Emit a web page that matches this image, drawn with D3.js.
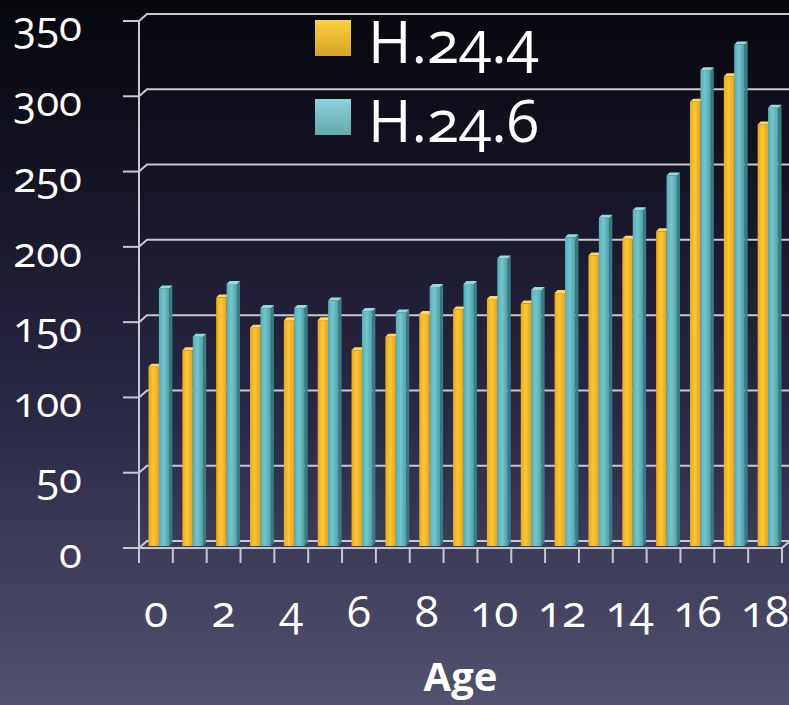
<html>
    <head>
            <script src="https://d3js.org/d3.v7.min.js"></script>
    </head>

    <style>
        body{ margin:0; background:#07070f; }
        text{ font-family:"Open Sans", "DejaVu Sans", sans-serif; fill:#ffffff; font-variant-numeric: oldstyle-nums; }
        .grid{ stroke:#c8c8d0; stroke-width:2px; fill:none; }
    </style>
    <body>

        <script>

            // data
            var ages = ["0","1","2","3","4","5","6","7","8","9","10","11","12","13","14","15","16","17","18"];
            var seriesNames = ["H.24.4", "H.24.6"];
            var h244 = [119, 130, 165, 145, 150, 150, 130, 139, 154, 157, 164, 161, 168, 193, 204, 209, 295, 312, 280];
            var h246 = [171, 139, 174, 158, 158, 163, 156, 155, 172, 174, 191, 170, 205, 218, 223, 246, 316, 333, 291];
            var yTicks = [0, 50, 100, 150, 200, 250, 300, 350];

            var W = 789, H = 705;
            var pLeft = 139, pRight = 782, pTop = 21, pBottom = 548;
            var dx = 8, dy = 7;      // back wall offset
            var dep = 3;             // bar depth

            var svg = d3.select("body").append("svg")
                        .attr("width", W)
                        .attr("height", H);

            var defs = svg.append("defs");

            // background gradient
            var bg = defs.append("linearGradient").attr("id", "bg")
                         .attr("x1", 0).attr("y1", 0).attr("x2", 0).attr("y2", 1);
            bg.append("stop").attr("offset", "0%").attr("stop-color", "#06060d");
            bg.append("stop").attr("offset", "30%").attr("stop-color", "#181729");
            bg.append("stop").attr("offset", "60%").attr("stop-color", "#2b2a46");
            bg.append("stop").attr("offset", "100%").attr("stop-color", "#52526f");

            function barGrad(id, c1, c2, c3){
                var g = defs.append("linearGradient").attr("id", id)
                            .attr("x1", 0).attr("y1", 0).attr("x2", 1).attr("y2", 0);
                g.append("stop").attr("offset", "0%").attr("stop-color", c1);
                g.append("stop").attr("offset", "45%").attr("stop-color", c2);
                g.append("stop").attr("offset", "100%").attr("stop-color", c3);
            }
            barGrad("gy", "#e8a820", "#fcc634", "#e2a422");
            barGrad("gt", "#58aeb6", "#74c6cc", "#4e9ea6");

            function legGrad(id, c1, c2){
                var g = defs.append("linearGradient").attr("id", id)
                            .attr("x1", 0).attr("y1", 0).attr("x2", 0).attr("y2", 1);
                g.append("stop").attr("offset", "0%").attr("stop-color", c1);
                g.append("stop").attr("offset", "100%").attr("stop-color", c2);
            }
            legGrad("ly", "#ffd040", "#d4a226");
            legGrad("lt", "#8ad4da", "#64a8ac");

            svg.append("rect").attr("width", W).attr("height", H).attr("fill", "url(#bg)");

            var x = d3.scaleBand().domain(ages).range([pLeft, pRight]);
            var y = d3.scaleLinear().domain([0, 350]).range([pBottom, pTop]);

            // back wall gridlines
            svg.append("g").selectAll("path")
               .data(yTicks)
               .enter().append("path")
               .attr("class", "grid")
               .attr("d", function(d){
                   return "M" + pLeft + "," + y(d) + "L" + (pLeft + dx) + "," + (y(d) - dy) + "L" + W + "," + (y(d) - dy);
               });

            // bars
            var bw = (x.bandwidth() - 13) / 2;
            var data = ages.map(function(a, i){ return {age:a, v:[h244[i], h246[i]]}; });
            var cols = [
                {front:"url(#gy)", side:"#b8861a", top:"#ffd860"},
                {front:"url(#gt)", side:"#3a7c82", top:"#96dade"}
            ];

            var groups = svg.append("g").selectAll("g")
                            .data(data)
                            .enter().append("g");

            [0, 1].forEach(function(s){
                var b = groups.append("g");
                var x0 = function(d){ return x(d.age) + 9.5 + s * bw; };
                var yt = function(d){ return y(d.v[s]) - 2; };
                var yb = y(0) - 2;
                b.append("path")   // side
                 .attr("fill", cols[s].side)
                 .attr("d", function(d){
                     var a = x0(d) + bw;
                     return "M" + a + "," + yt(d) + "L" + (a + dep) + "," + (yt(d) - dep) + "L" + (a + dep) + "," + (yb - dep) + "L" + a + "," + yb + "Z";
                 });
                b.append("rect")   // front
                 .attr("x", x0)
                 .attr("y", yt)
                 .attr("width", bw)
                 .attr("height", function(d){ return yb - yt(d); })
                 .attr("fill", cols[s].front);
                b.append("path")   // top
                 .attr("fill", cols[s].top)
                 .attr("d", function(d){
                     var a = x0(d);
                     return "M" + a + "," + yt(d) + "L" + (a + dep) + "," + (yt(d) - dep) + "L" + (a + bw + dep) + "," + (yt(d) - dep) + "L" + (a + bw) + "," + yt(d) + "Z";
                 });
            });

            // front axes
            svg.append("line").attr("class", "grid")
               .attr("x1", pLeft).attr("x2", pLeft).attr("y1", y(350)).attr("y2", y(0));
            svg.append("path").attr("class", "grid")
               .attr("d", "M" + pLeft + "," + y(0) + "L" + pRight + "," + y(0) + "L" + (pRight + dx) + "," + (y(0) - dy));

            // y ticks and labels
            svg.append("g").selectAll("line")
               .data(yTicks)
               .enter().append("line")
               .attr("class", "grid")
               .attr("x1", pLeft - 16).attr("x2", pLeft)
               .attr("y1", function(d){ return y(d); })
               .attr("y2", function(d){ return y(d); });

            svg.append("g").selectAll("text")
               .data(yTicks)
               .enter().append("text")
               .attr("x", 82)
               .attr("y", function(d){ return y(d) + 20; })
               .attr("text-anchor", "end")
               .style("font-size", "42px")
               .text(function(d){ return d; });

            // x ticks and labels
            var xEdges = ages.map(function(a){ return x(a); }).concat([pRight]);
            svg.append("g").selectAll("line")
               .data(xEdges)
               .enter().append("line")
               .attr("class", "grid")
               .attr("x1", function(d){ return d; }).attr("x2", function(d){ return d; })
               .attr("y1", y(0)).attr("y2", y(0) + 15);

            svg.append("g").selectAll("text")
               .data(ages.filter(function(a, i){ return i % 2 == 0; }))
               .enter().append("text")
               .attr("x", function(d){ return x(d) + x.bandwidth() / 2; })
               .attr("y", 627)
               .attr("text-anchor", "middle")
               .style("font-size", "44px")
               .text(function(d){ return d; });

            svg.append("text")
               .attr("x", (pLeft + pRight) / 2)
               .attr("y", 691)
               .attr("text-anchor", "middle")
               .style("font-size", "40px")
               .style("font-weight", "bold")
               .text("Age");

            // legend
            var leg = svg.append("g").selectAll("g")
                         .data(seriesNames)
                         .enter().append("g")
                         .attr("transform", function(d, i){ return "translate(315," + (20 + i * 79) + ")"; });
            leg.append("rect")
               .attr("width", 36).attr("height", 36)
               .attr("fill", function(d, i){ return i == 0 ? "url(#ly)" : "url(#lt)"; });
            leg.append("text")
               .attr("x", 53).attr("y", 43)
               .style("font-size", "59px")
               .text(function(d){ return d; });

        </script>
    </body>
</html>
